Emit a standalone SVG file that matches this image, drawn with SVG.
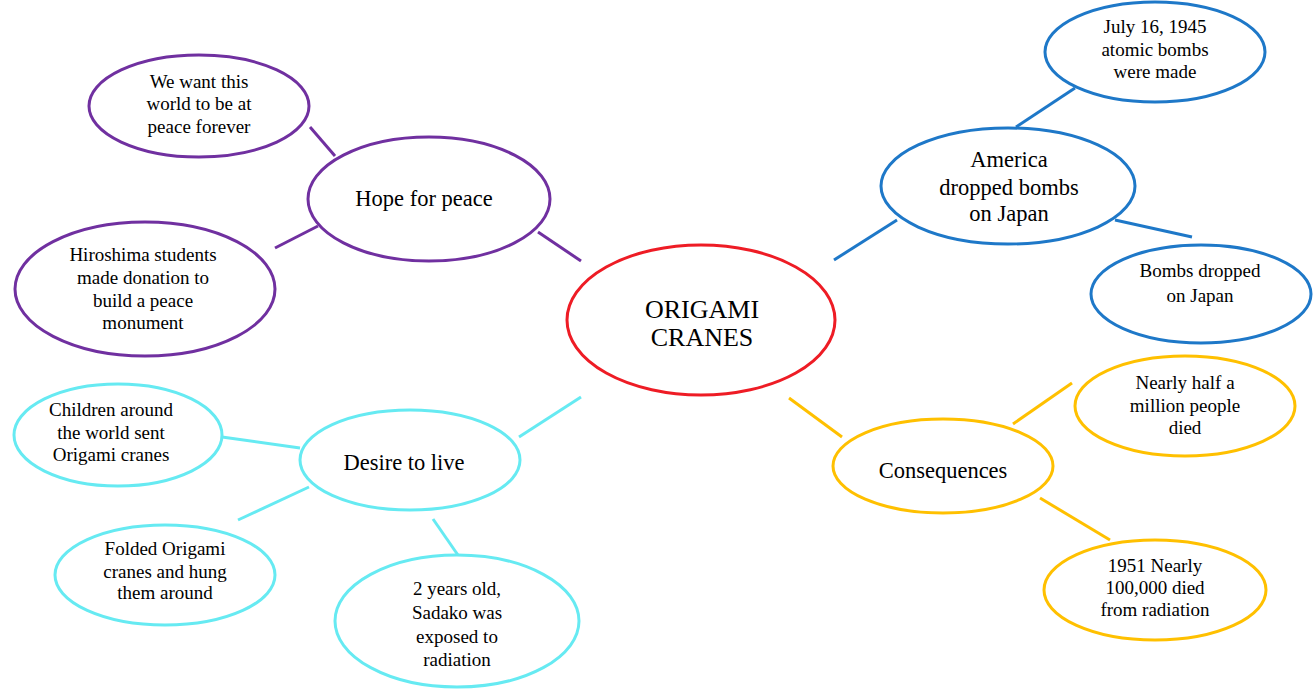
<svg xmlns="http://www.w3.org/2000/svg" width="1314" height="692" viewBox="0 0 1314 692">
<style>
ellipse{fill:#fff;stroke-width:3}
line{stroke-width:3}
text{fill:#000;text-anchor:middle}
.s{font-size:19px}
.m{font-size:22.5px}
.l{font-size:26px}
.pu{stroke:#7030A0}.re{stroke:#EE1C25}.bl{stroke:#1E78C8}.cy{stroke:#66EAF2}.ye{stroke:#FFC000}
</style>
<rect width="1314" height="692" fill="#fff"/>
<g id="connectors">
<line class="pu" x1="310" y1="127" x2="335" y2="156"/>
<line class="pu" x1="275" y1="248" x2="318" y2="226"/>
<line class="pu" x1="538" y1="232" x2="581" y2="261"/>
<line class="cy" x1="222" y1="437" x2="300" y2="448"/>
<line class="cy" x1="238" y1="520" x2="309" y2="487"/>
<line class="cy" x1="433" y1="519" x2="460" y2="558"/>
<line class="cy" x1="519" y1="437" x2="581" y2="397"/>
<line class="bl" x1="834" y1="260" x2="897" y2="220"/>
<line class="bl" x1="1016" y1="127" x2="1075" y2="88"/>
<line class="bl" x1="1115" y1="220" x2="1192" y2="237"/>
<line class="ye" x1="789" y1="398" x2="842" y2="437"/>
<line class="ye" x1="1013" y1="424" x2="1072" y2="383"/>
<line class="ye" x1="1040" y1="498" x2="1110" y2="540"/>
</g>
<g id="center"><ellipse class="re" cx="701" cy="320" rx="134" ry="75"/><text font-family="Liberation Serif" class="l" x="702" y="318">ORIGAMI</text><text font-family="Liberation Serif" class="l" x="702" y="346">CRANES</text></g>
<g id="hope"><ellipse class="pu" cx="429" cy="199" rx="121" ry="62"/><text font-family="Liberation Serif" class="m" x="424" y="206">Hope for peace</text></g>
<g id="want"><ellipse class="pu" cx="199" cy="106" rx="110" ry="51"/><text font-family="Liberation Serif" class="s" x="199" y="88">We want this</text><text font-family="Liberation Serif" class="s" x="199" y="110">world to be at</text><text font-family="Liberation Serif" class="s" x="199" y="133">peace forever</text></g>
<g id="hiroshima"><ellipse class="pu" cx="145" cy="289" rx="130" ry="67"/><text font-family="Liberation Serif" class="s" x="143" y="261">Hiroshima students</text><text font-family="Liberation Serif" class="s" x="143" y="284">made donation  to</text><text font-family="Liberation Serif" class="s" x="143" y="307">build a peace</text><text font-family="Liberation Serif" class="s" x="143" y="329">monument</text></g>
<g id="desire"><ellipse class="cy" cx="410" cy="460" rx="110" ry="50"/><text font-family="Liberation Serif" class="m" x="404" y="470">Desire to live</text></g>
<g id="children"><ellipse class="cy" cx="118" cy="435" rx="104" ry="51"/><text font-family="Liberation Serif" class="s" x="111" y="416">Children around</text><text font-family="Liberation Serif" class="s" x="111" y="439">the world sent</text><text font-family="Liberation Serif" class="s" x="111" y="461">Origami cranes</text></g>
<g id="folded"><ellipse class="cy" cx="165" cy="575" rx="110" ry="50"/><text font-family="Liberation Serif" class="s" x="165" y="555">Folded Origami</text><text font-family="Liberation Serif" class="s" x="165" y="578">cranes and hung</text><text font-family="Liberation Serif" class="s" x="165" y="599">them around</text></g>
<g id="sadako"><ellipse class="cy" cx="457" cy="621" rx="122" ry="66"/><text font-family="Liberation Serif" class="s" x="457" y="595">2 years old,</text><text font-family="Liberation Serif" class="s" x="457" y="619">Sadako was</text><text font-family="Liberation Serif" class="s" x="457" y="643">exposed to</text><text font-family="Liberation Serif" class="s" x="457" y="666">radiation</text></g>
<g id="america"><ellipse class="bl" cx="1008" cy="186" rx="127" ry="58"/><text font-family="Liberation Serif" class="m" x="1009" y="167">America</text><text font-family="Liberation Serif" class="m" x="1009" y="195">dropped bombs</text><text font-family="Liberation Serif" class="m" x="1009" y="221">on Japan</text></g>
<g id="july"><ellipse class="bl" cx="1155" cy="52" rx="110" ry="50"/><text font-family="Liberation Serif" class="s" x="1155" y="33">July 16, 1945</text><text font-family="Liberation Serif" class="s" x="1155" y="56">atomic bombs</text><text font-family="Liberation Serif" class="s" x="1155" y="78">were made</text></g>
<g id="bombs"><ellipse class="bl" cx="1201" cy="294" rx="110" ry="49"/><text font-family="Liberation Serif" class="s" x="1200" y="277">Bombs dropped</text><text font-family="Liberation Serif" class="s" x="1200" y="302">on Japan</text></g>
<g id="consequences"><ellipse class="ye" cx="943" cy="466" rx="110" ry="47"/><text font-family="Liberation Serif" class="m" x="943" y="478">Consequences</text></g>
<g id="half"><ellipse class="ye" cx="1185" cy="406" rx="110" ry="50"/><text font-family="Liberation Serif" class="s" x="1185" y="389">Nearly half a</text><text font-family="Liberation Serif" class="s" x="1185" y="412">million people</text><text font-family="Liberation Serif" class="s" x="1185" y="434">died</text></g>
<g id="nineteen51"><ellipse class="ye" cx="1155" cy="590" rx="111" ry="50"/><text font-family="Liberation Serif" class="s" x="1155" y="572">1951 Nearly</text><text font-family="Liberation Serif" class="s" x="1155" y="594">100,000 died</text><text font-family="Liberation Serif" class="s" x="1155" y="616">from radiation</text></g>
</svg>
